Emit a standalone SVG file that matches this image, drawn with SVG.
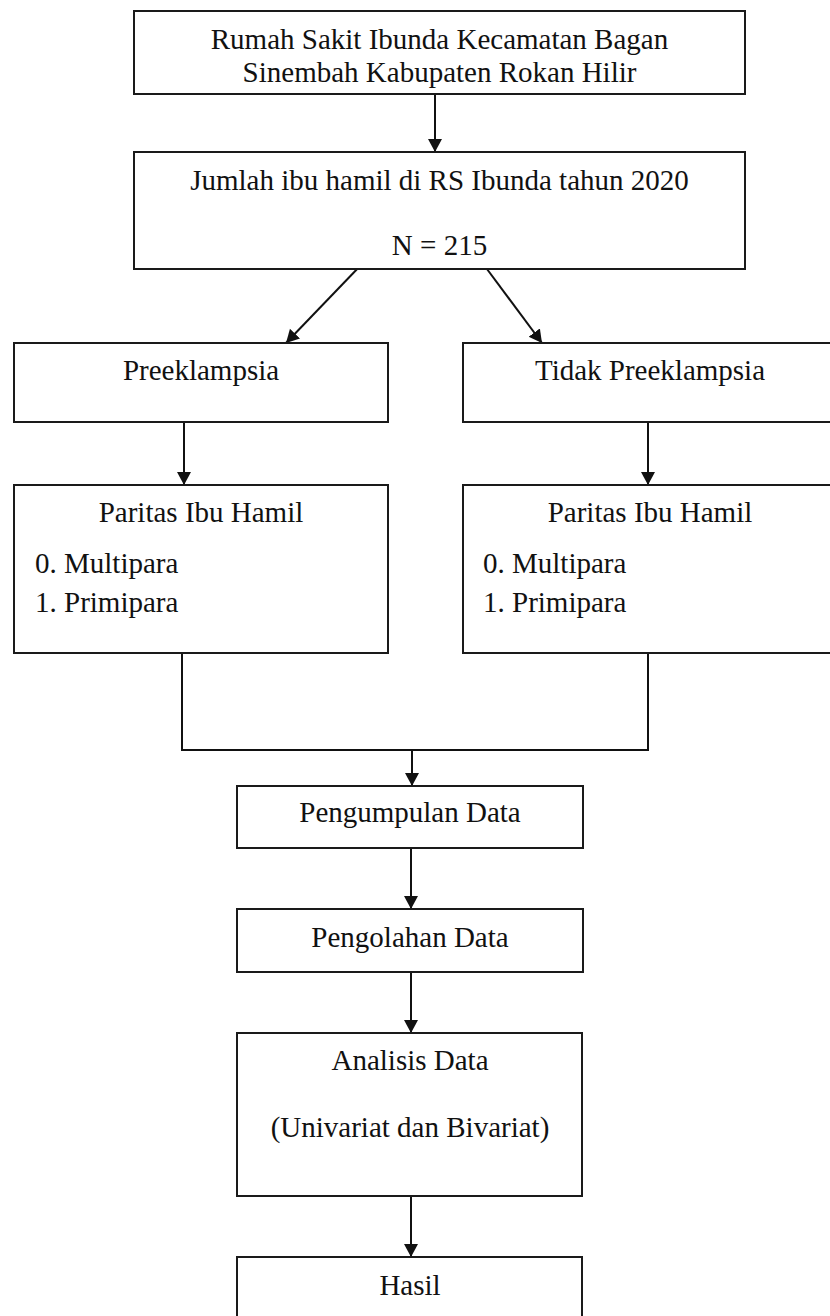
<svg xmlns="http://www.w3.org/2000/svg" width="830" height="1316" viewBox="0 0 830 1316">
<style>
.box{fill:#fff;stroke:#1a1a1a;stroke-width:2}
.t{font-family:"Liberation Serif","Times New Roman",serif;font-size:29px;fill:#111}
.c{text-anchor:middle}
.ln{fill:none;stroke:#111;stroke-width:2}
</style>
<defs>
<marker id="ah" markerUnits="userSpaceOnUse" markerWidth="14" markerHeight="15" refX="13" refY="7" orient="auto">
<path d="M0,0 L13,7 L0,14 z" fill="#111"/>
</marker>
</defs>
<rect width="830" height="1316" fill="#fff"/>
<g id="connectors">
<path class="ln" d="M435,94 L435,152" marker-end="url(#ah)"/>
<path class="ln" d="M361,265 L286,343" marker-end="url(#ah)"/>
<path class="ln" d="M484,265 L542,343" marker-end="url(#ah)"/>
<path class="ln" d="M184,422 L184,485" marker-end="url(#ah)"/>
<path class="ln" d="M648,422 L648,485" marker-end="url(#ah)"/>
<path class="ln" d="M182,653 L182,750 L648,750 L648,653"/>
<path class="ln" d="M412,750 L412,786" marker-end="url(#ah)"/>
<path class="ln" d="M411,848 L411,909" marker-end="url(#ah)"/>
<path class="ln" d="M411,972 L411,1033" marker-end="url(#ah)"/>
<path class="ln" d="M411,1196 L411,1257" marker-end="url(#ah)"/>
</g>
<g id="n1">
<rect class="box" x="134" y="11" width="611" height="83"/>
<text class="t c" x="439.5" y="49">Rumah Sakit Ibunda Kecamatan Bagan</text>
<text class="t c" x="439.5" y="82">Sinembah Kabupaten Rokan Hilir</text>
</g>
<g id="n2">
<rect class="box" x="134" y="152" width="611" height="117"/>
<text class="t c" x="439.5" y="190">Jumlah ibu hamil di RS Ibunda tahun 2020</text>
<text class="t c" x="439.5" y="255">N = 215</text>
</g>
<g id="n3">
<rect class="box" x="14" y="343" width="374" height="79"/>
<text class="t c" x="201" y="380">Preeklampsia</text>
</g>
<g id="n4">
<rect class="box" x="463" y="343" width="374" height="79"/>
<text class="t c" x="650" y="380">Tidak Preeklampsia</text>
</g>
<g id="n5">
<rect class="box" x="14" y="485" width="374" height="168"/>
<text class="t c" x="201" y="522">Paritas Ibu Hamil</text>
<text class="t" x="35" y="573">0. Multipara</text>
<text class="t" x="35" y="612">1. Primipara</text>
</g>
<g id="n6">
<rect class="box" x="463" y="485" width="374" height="168"/>
<text class="t c" x="650" y="522">Paritas Ibu Hamil</text>
<text class="t" x="483" y="573">0. Multipara</text>
<text class="t" x="483" y="612">1. Primipara</text>
</g>
<g id="n7">
<rect class="box" x="237" y="786" width="346" height="62"/>
<text class="t c" x="410" y="822">Pengumpulan Data</text>
</g>
<g id="n8">
<rect class="box" x="237" y="909" width="346" height="63"/>
<text class="t c" x="410" y="947">Pengolahan Data</text>
</g>
<g id="n9">
<rect class="box" x="237" y="1033" width="345" height="163"/>
<text class="t c" x="410" y="1070">Analisis Data</text>
<text class="t c" x="410" y="1137">(Univariat dan Bivariat)</text>
</g>
<g id="n10">
<rect class="box" x="237" y="1257" width="345" height="80"/>
<text class="t c" x="410" y="1295">Hasil</text>
</g>
</svg>
